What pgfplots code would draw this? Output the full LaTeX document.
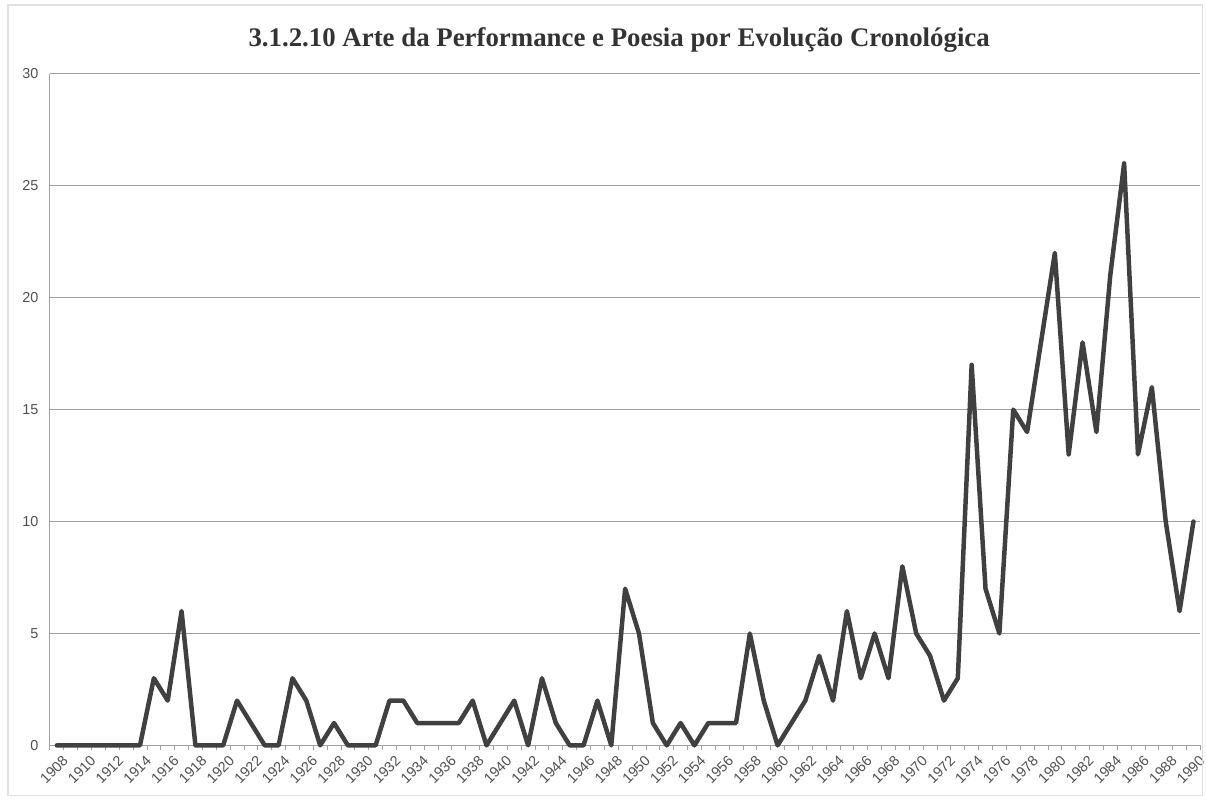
\documentclass[border=0pt]{standalone}
\usepackage{fontspec}
\setmainfont{Liberation Serif}
\newfontfamily\sansfont{Liberation Sans}
\usepackage{pgfplots}
\pgfplotsset{compat=1.18}
\usepackage{pgfplotstable}
\definecolor{linegray}{HTML}{404040}
\definecolor{gridgray}{HTML}{A0A0A0}
\definecolor{tickgray}{HTML}{505050}
\definecolor{titlegray}{HTML}{333333}
\definecolor{framegray}{HTML}{E0E0E0}
\pgfplotstableread{
year val
1908 0
1909 0
1910 0
1911 0
1912 0
1913 0
1914 0
1915 3
1916 2
1917 6
1918 0
1919 0
1920 0
1921 2
1922 1
1923 0
1924 0
1925 3
1926 2
1927 0
1928 1
1929 0
1930 0
1931 0
1932 2
1933 2
1934 1
1935 1
1936 1
1937 1
1938 2
1939 0
1940 1
1941 2
1942 0
1943 3
1944 1
1945 0
1946 0
1947 2
1948 0
1949 7
1950 5
1951 1
1952 0
1953 1
1954 0
1955 1
1956 1
1957 1
1958 5
1959 2
1960 0
1961 1
1962 2
1963 4
1964 2
1965 6
1966 3
1967 5
1968 3
1969 8
1970 5
1971 4
1972 2
1973 3
1974 17
1975 7
1976 5
1977 15
1978 14
1979 18
1980 22
1981 13
1982 18
1983 14
1984 21
1985 26
1986 13
1987 16
1988 10
1989 6
1990 10
}\datatable
\begin{document}
\begin{tikzpicture}
\begin{axis}[
  name=ax,
  scale only axis,
  width=1153bp, height=673bp,
  xmin=1907.5, xmax=1990.5,
  ymin=0, ymax=30,
  axis x line=bottom, axis y line=left,
  axis line style={-, draw=gridgray, line width=1bp},
  xtick={1908,1910,...,1990},
  minor xtick={1907.5,1908.5,...,1990.5},
  major tick length=0pt,
  minor tick length=5bp,
  minor tick style={draw=gridgray, line width=0.8bp},
  tick align=outside,
  ytick={0,5,...,30},
  ymajorgrids,
  major grid style={draw=gridgray, line width=1bp},
  /pgf/number format/assume math mode=true,
  /pgf/number format/1000 sep={},
  ticklabel style={font=\sansfont\fontsize{14.5}{14.5}\selectfont, text=tickgray},
  xticklabel style={rotate=45, anchor=north east, inner sep=1bp, yshift=-9bp, xshift=-2bp},
  yticklabel style={anchor=east, xshift=-8bp},
  clip=false,
]
\addplot[color=linegray, line width=4.5bp, line join=round, line cap=round] table[x=year, y=val] {\datatable};
\end{axis}
\path ([xshift=-50bp,yshift=-55bp]ax.south west) rectangle ([xshift=4bp,yshift=74bp]ax.north east);
\draw[framegray, line width=1.5bp] ([xshift=-42bp,yshift=-50bp]ax.south west) rectangle ([xshift=2bp,yshift=69bp]ax.north east);
\node[font=\bfseries\fontsize{27}{27}\selectfont, text=titlegray] at ([xshift=-6bp,yshift=34bp]ax.north) {3.1.2.10 Arte da Performance e Poesia por Evolução Cronológica};
\end{tikzpicture}
\end{document}
